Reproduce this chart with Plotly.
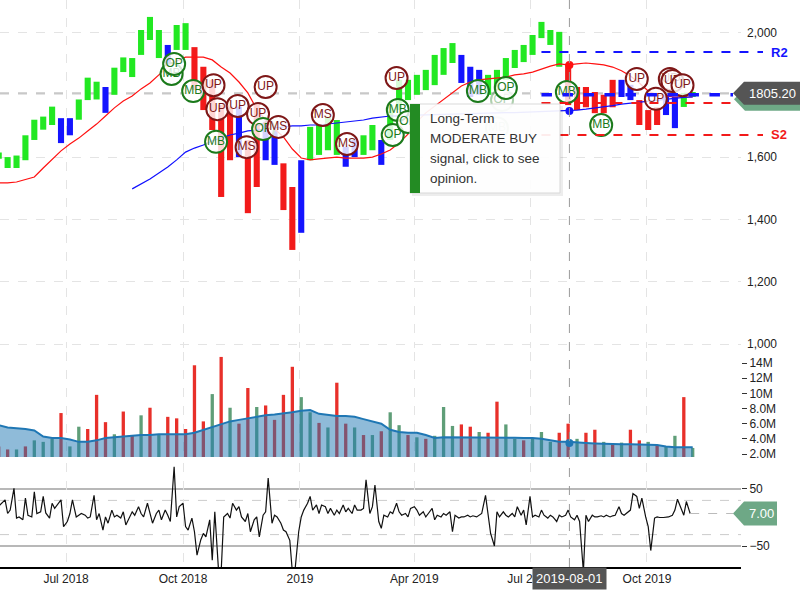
import pandas as pd
import plotly.graph_objects as go

FONT = "Liberation Sans, Arial, sans-serif"

# ---------------- data (weekly) ----------------
week_start = "2018-05-07"
n_weeks = 79

price_low = [1595, 1565, 1565, 1590, 1655, 1688, 1703, 1645, 1670, 1720,
             1783, 1785, 1742, 1800, 1873, 1857, 1928, 1976, 1918, 1890,
             1944, 1944, 1815, 1751, 1687, 1472, 1590, 1600, 1420, 1504,
             1590, 1575, 1430, 1302, 1357, 1590, 1607, 1622, 1607, 1569,
             1600, 1607, 1622, 1575, 1655, 1751, 1783, 1800, 1815, 1831,
             1864, 1902, 1838, 1793, 1800, 1800, 1815, 1848, 1886, 1905,
             1928, 1982, 1960, 1890, 1767, 1751, 1760, 1741, 1741, 1760,
             1793, 1783, 1703, 1687, 1703, 1735, 1693, 1761, 1793]
price_high = [1615, 1600, 1605, 1670, 1720, 1730, 1762, 1725, 1725, 1785,
              1855, 1842, 1825, 1887, 1920, 1918, 2008, 2050, 2008, 1960,
              2024, 2030, 1953, 1890, 1848, 1767, 1762, 1762, 1655, 1772,
              1720, 1687, 1580, 1504, 1590, 1697, 1703, 1730, 1719, 1633,
              1655, 1670, 1703, 1655, 1767, 1848, 1848, 1864, 1880, 1928,
              1950, 1966, 1928, 1890, 1880, 1864, 1880, 1918, 1944, 1960,
              1992, 2034, 2008, 2002, 1900, 1825, 1825, 1809, 1800, 1848,
              1848, 1832, 1783, 1751, 1760, 1800, 1793, 1806, 1809]
price_trend = list("ggggggg" "bb" "ggg" "b" "gggggg" "b" "gg" "rrrrr" "b" "rr"
                   "bb" "rr" "b" "gggg" "bb" "gg" "b" "gggggggg" "bbb"
                   "ggggggggg" "rrrrrr" "bb" "rrr" "bb" "gg")

ma_short = [1517, 1517, 1520, 1527, 1536, 1565, 1591, 1620, 1642, 1661,
            1684, 1706, 1732, 1758, 1780, 1796, 1819, 1838, 1864, 1889,
            1909, 1921, 1921, 1921, 1912, 1889, 1870, 1841, 1806, 1754,
            1719, 1690, 1665, 1626, 1597, 1591, 1594, 1597, 1600, 1597,
            1597, 1597, 1600, 1610, 1623, 1645, 1674, 1713, 1742, 1764,
            1787, 1809, 1828, 1841, 1848, 1851, 1854, 1857, 1864, 1867,
            1873, 1883, 1892, 1899, 1896, 1899, 1902, 1899, 1896, 1889,
            1877, 1860, 1838, 1812, 1799, 1796, 1793, 1793, 1793]
ma_long = [None] * 15 + [
    1498, 1514, 1530, 1549, 1568, 1591, 1616, 1629, 1639, 1652,
    1661, 1671, 1677, 1684, 1687, 1690, 1693, 1697, 1700, 1700,
    1703, 1703, 1706, 1709, 1713, 1716, 1719, 1725, 1729, 1732,
    1732, 1735, 1735, 1736, 1737, 1738, 1738, 1739, 1740, 1741,
    1741, 1742, 1743, 1743, 1744, 1744, 1745, 1746, 1747, 1748,
    1751, 1754, 1757, 1761, 1765, 1770, 1773, 1777, 1780, 1783,
    1786, 1790, 1792, 1793]

volume_m = [3.0, 2.6, 2.6, 3.0, 3.8, 3.6, 4.0, 7.4, 3.0, 5.6,
            5.3, 9.8, 6.2, 4.6, 7.6, 4.4, 7.1, 8.1, 4.5, 6.9,
            6.7, 5.3, 13.7, 6.3, 9.9, 14.8, 8.1, 6.0, 10.7, 8.2,
            8.4, 6.5, 9.8, 13.5, 9.5, 7.5, 6.1, 5.5, 11.4, 6.0,
            5.5, 4.5, 4.5, 5.0, 7.5, 5.8, 4.5, 4.2, 4.0, 4.4,
            8.2, 5.7, 5.9, 5.6, 4.9, 4.8, 8.9, 5.9, 4.0, 3.8,
            4.0, 4.9, 3.6, 4.8, 6.0, 4.0, 4.8, 5.2, 3.6, 3.4,
            3.5, 5.2, 3.8, 3.6, 3.2, 3.0, 4.4, 9.5, 2.8]
volume_dir = list("rrgrgggrgg" "rrrgrrgrgr" "rrrrgrgrrg" "rrrrggrgrr"
                  "grgrggrgrg" "ggrrgrrggr" "gggrrgrrgr" "grrgrggrg")
volume_avg_m = [5.8, 5.5, 5.4, 5.3, 5.1, 4.3, 4.1, 4.1, 3.9, 3.6,
                3.6, 3.8, 4.1, 4.2, 4.3, 4.4, 4.5, 4.5, 4.6, 4.6,
                4.6, 4.6, 4.8, 5.2, 5.5, 5.9, 6.3, 6.5, 6.7, 6.9,
                7.1, 7.2, 7.3, 7.5, 7.7, 7.8, 7.3, 7.1, 7.0, 7.0,
                6.9, 6.6, 6.3, 6.0, 5.2, 4.9, 4.8, 4.8, 4.5, 4.1,
                4.2, 4.2, 4.2, 4.2, 4.2, 4.2, 4.2, 4.2, 4.15, 4.1,
                4.1, 4.0, 3.8, 3.6, 3.6, 3.5, 3.45, 3.4, 3.35, 3.3,
                3.3, 3.3, 3.25, 3.2, 3.2, 3.0, 2.9, 2.9, 2.9]

# oscillator, sampled Mon / Wed / Fri
osc = [20, 25,
       31, 7, 13, 51, -1, 1, -4, 34, 4, 1, 45, 7, 10, 37, 8, -1, 25, 16,
       25, 31, -16, -7, 7, 31, 1, 4, 7, 4, -1, 1, 39, -4, 7, -22, 1, -10,
       13, 1, 4, -1, 10, -13, 1, 10, 4, 19, 7, 1, 25, 7, -10, 7, 13, -4,
       13, 4, -7, 89, 1, 19, 25, -16, -22, -1, -25, -66, -39, -28, -34,
       -4, -75, 10, -95, -95, 1, 7, -1, 25, 13, 19, 1, -7, 7, -25,
       -4, 1, -34, 4, 10, 69, -10, 4, 1, -10, -22, -25, -40, -95, -95,
       -25, 1, 13, 25, 37, 13, 22, 7, 22, 19, 7, 16, 4, 13, 7,
       22, 10, 16, 7, 22, 13, 13, 16, 66, 7, 19, 57, -7, -19, 4,
       1, 10, 7, 25, 10, 4, 7, 1, 16, 19, 13, 4, 10, 1, 7,
       16, -4, 4, 1, 7, 4, 10, -25, 4, -1, 1, 1, 4, 1, 3,
       1, 4, 7, 39, 1, -28, -50, 10, 1, 10, 4, 1, 7, 1, 19,
       4, 13, -13, 37, 1, 4, 1, 13, 4, -1, 4, 1, -7, 4, 1,
       4, 13, 1, -4, 4, -7, -95, 4, -7, 4, 1, 1, 3, 1, 4,
       1, 3, 4, 19, 7, 4, 10, 13, 42, 37, 16, 34, 1, -16, -58,
       -1, 1, 0, 0, 0, 1, 4, 13, 32, 13, 4, 28,
       7]

signals = [  # label, date, price level, kind, faded
    ("MB", "2018-09-22", 1867, "buy", False),
    ("OP", "2018-09-24", 1899, "buy", False),
    ("MB", "2018-10-09", 1812, "buy", False),
    ("UP", "2018-10-25", 1831, "sell", False),
    ("MB", "2018-10-27", 1649, "buy", False),
    ("UP", "2018-10-28", 1754, "sell", False),
    ("UP", "2018-11-13", 1764, "sell", False),
    ("MS", "2018-11-20", 1632, "sell", False),
    ("UP", "2018-11-29", 1738, "sell", False),
    ("UP", "2018-12-05", 1825, "sell", False),
    ("OP", "2018-12-03", 1690, "buy", False),
    ("MS", "2018-12-15", 1697, "sell", False),
    ("MS", "2019-01-19", 1735, "sell", False),
    ("MS", "2019-02-07", 1642, "sell", False),
    ("UP", "2019-03-18", 1854, "sell", False),
    ("OP", "2019-03-15", 1671, "buy", False),
    ("MB", "2019-03-19", 1751, "buy", False),
    ("OP", "2019-03-27", 1713, "buy", False),
    ("MB", "2019-05-21", 1812, "buy", False),
    ("MB", "2019-06-05", 1693, "buy", True),
    ("OP", "2019-06-09", 1783, "buy", True),
    ("OP", "2019-06-12", 1822, "buy", False),
    ("MB", "2019-07-30", 1809, "buy", False),
    ("MB", "2019-08-26", 1703, "buy", False),
    ("UP", "2019-09-23", 1851, "sell", False),
    ("UP", "2019-10-08", 1787, "sell", False),
    ("UP", "2019-10-19", 1851, "sell", False),
    ("UP", "2019-10-21", 1844, "sell", False),
    ("UP", "2019-10-29", 1831, "sell", False),
]

last_price = 1805.20
last_osc = 7.00
pivot_start = "2019-07-10"
levels = {"R2": 1937, "R1": 1800, "S1": 1774, "S2": 1671}
cursor_date = "2019-08-01"
cursor_ma_short, cursor_ma_long, cursor_vol_avg_m = 1896, 1748, 3.45

x_ticks = ["2018-07-01", "2018-10-01", "2019-01-01", "2019-04-01", "2019-07-01", "2019-10-01"]
x_tick_text = ["Jul 2018", "Oct 2018", "2019", "Apr 2019", "Jul 2019", "Oct 2019"]
price_ticks = [1000, 1200, 1400, 1600, 1800, 2000]
vol_ticks_m = [2, 4, 6, 8, 10, 12, 14]
vol_tick_text = ["2.0M", "4.0M", "6.0M", "8.0M", "10M", "12M", "14M"]

# ---------------- derived ----------------
mondays = pd.date_range(week_start, periods=n_weeks, freq="W-MON")
bar_dates = mondays + pd.Timedelta(days=2)
osc_dates = []
for i, m in enumerate(mondays):
    for off in (0, 2, 4):
        d = m + pd.Timedelta(days=off)
        if i == 0 and off == 0:
            continue
        if i == n_weeks - 1 and off > 0:
            continue
        osc_dates.append(d)

X0, X1 = pd.Timestamp("2018-05-10"), pd.Timestamp("2019-12-14")
PW, PH = 741.0, 567.0


def xp(px):
    return px / PW


def yp(py):
    return 1 - py / PH


def date_paper(d):
    return (pd.Timestamp(d) - X0) / (X1 - X0)


PRICE_RANGE = [987.2, 2104.3]
VOL_RANGE = [1.604e6, 15.45e6]
OSC_RANGE = [-86.84, 95.6]
price_dom = [yp(348), 1]
vol_dom = [yp(457), yp(352)]
osc_dom = [0, yp(463)]
price_ppu = 348 / (PRICE_RANGE[1] - PRICE_RANGE[0])
osc_ppu = (567 - 463) / (OSC_RANGE[1] - OSC_RANGE[0])

GREEN, BLUE, RED = "#22e822", "#1414ff", "#f21a1a"
trend_col = {"g": GREEN, "b": BLUE, "r": RED}
vol_col = {"g": "#5f9e78", "r": "#e8302a"}
DAY_MS = 86400000

fig = go.Figure()

# volume bars + average area
fig.add_trace(go.Bar(x=bar_dates, y=[v * 1e6 for v in volume_m],
                     marker=dict(color=[vol_col[c] for c in volume_dir], line_width=0),
                     width=2.6 * DAY_MS, xaxis="x", yaxis="y2", hoverinfo="skip"))
fig.add_trace(go.Scatter(x=bar_dates, y=[v * 1e6 for v in volume_avg_m], mode="lines",
                         line=dict(color="#1f77b4", width=2), fill="tozeroy",
                         fillcolor="rgba(31,119,180,0.5)", xaxis="x", yaxis="y2",
                         hoverinfo="skip"))
fig.add_trace(go.Scatter(x=[cursor_date], y=[cursor_vol_avg_m * 1e6], mode="markers",
                         marker=dict(color="#1f77b4", size=8), xaxis="x", yaxis="y2"))

# price bars
fig.add_trace(go.Bar(x=bar_dates, y=[h - l for h, l in zip(price_high, price_low)],
                     base=price_low,
                     marker=dict(color=[trend_col[c] for c in price_trend], line_width=0),
                     width=4.8 * DAY_MS, xaxis="x", yaxis="y", hoverinfo="skip"))
fig.add_trace(go.Scatter(x=bar_dates, y=ma_short, mode="lines",
                         line=dict(color="#ff1010", width=1.2), xaxis="x", yaxis="y"))
fig.add_trace(go.Scatter(x=bar_dates, y=ma_long, mode="lines",
                         line=dict(color="#1010ff", width=1.2), xaxis="x", yaxis="y"))
fig.add_trace(go.Scatter(x=[cursor_date, cursor_date], y=[cursor_ma_short, cursor_ma_long],
                         mode="markers", marker=dict(color=["#ff1010", "#1010ff"], size=8),
                         xaxis="x", yaxis="y"))

# signal markers
for lab, d, lvl, kind, faded in signals:
    col = "#1b7a1b" if kind == "buy" else "#7e1717"
    fig.add_trace(go.Scatter(
        x=[d], y=[lvl], mode="markers+text", text=[lab], textposition="middle center",
        textfont=dict(family=FONT, size=12, color=col),
        marker=dict(size=22, color="rgba(255,255,255,0.82)", line=dict(color=col, width=2)),
        opacity=0.35 if faded else 1.0, xaxis="x", yaxis="y"))

# oscillator
fig.add_trace(go.Scatter(x=osc_dates, y=osc, mode="lines",
                         line=dict(color="#111111", width=1.2), xaxis="x", yaxis="y3"))

shapes = []
# last price line
shapes.append(dict(type="line", xref="paper", yref="y", x0=0, x1=xp(733), y0=last_price,
                   y1=last_price, line=dict(color="#c8c8c8", width=2, dash="dash"), layer="below"))
# pivot levels
ps = date_paper(pivot_start)
shapes.append(dict(type="line", xref="paper", yref="y", x0=ps, x1=xp(763), y0=levels["R2"],
                   y1=levels["R2"], line=dict(color=BLUE, width=2, dash="dash")))
shapes.append(dict(type="line", xref="paper", yref="y", x0=ps, x1=xp(763), y0=levels["S2"],
                   y1=levels["S2"], line=dict(color=RED, width=2, dash="dash")))
shapes.append(dict(type="line", xref="paper", yref="y", x0=ps, x1=xp(760), y0=levels["S1"],
                   y1=levels["S1"], line=dict(color=RED, width=2, dash="dash")))
shapes.append(dict(type="line", xref="paper", yref="y", x0=ps, x1=xp(733), y0=levels["R1"],
                   y1=levels["R1"], line=dict(color=BLUE, width=3.5, dash="dash")))
# oscillator guides
for lv, dash, w, c in [(50, "solid", 2, "#b8b8b8"), (-50, "solid", 2, "#b8b8b8"),
                       (30, "dash", 1, "#cccccc"), (-30, "dash", 1, "#cccccc")]:
    shapes.append(dict(type="line", xref="paper", yref="y3", x0=0, x1=1, y0=lv, y1=lv,
                       line=dict(color=c, width=w, dash=dash), layer="below"))
# osc last value line
shapes.append(dict(type="line", xref="paper", yref="y3", x0=date_paper(osc_dates[-1]),
                   x1=xp(733), y0=last_osc, y1=last_osc,
                   line=dict(color="#bbbbbb", width=1, dash="dash")))
# cursor
shapes.append(dict(type="line", xref="x", yref="paper", x0=cursor_date, x1=cursor_date,
                   y0=0, y1=1, line=dict(color="#9a9a9a", width=1, dash="dash")))


def tag_path(yc, half, x_tip, x_body, x_end):
    return (f"M {xp(x_tip)},{yc} L {xp(x_body)},{yc + half} L {xp(x_end)},{yc + half} "
            f"L {xp(x_end)},{yc - half} L {xp(x_body)},{yc - half} Z")


hh = 11.5 / price_ppu
shapes.append(dict(type="path", xref="paper", yref="y",
                   path=tag_path(last_price - 6 / price_ppu, hh, 734, 745, 800),
                   fillcolor="#6ea886", line=dict(width=0)))
shapes.append(dict(type="path", xref="paper", yref="y",
                   path=tag_path(last_price, hh, 733, 744, 800),
                   fillcolor="#555555", line=dict(width=0)))
shapes.append(dict(type="path", xref="paper", yref="y3",
                   path=tag_path(last_osc, 12 / osc_ppu, 733, 744, 777),
                   fillcolor="#6ea886", line=dict(width=0)))

# tooltip box
shapes.append(dict(type="rect", xref="paper", yref="paper", x0=xp(412), x1=xp(563),
                   y0=yp(196), y1=yp(106), fillcolor="rgba(0,0,0,0.07)", line=dict(width=0)))
shapes.append(dict(type="rect", xref="paper", yref="paper", x0=xp(410), x1=xp(560),
                   y0=yp(193), y1=yp(104), fillcolor="rgba(255,255,255,0.92)",
                   line=dict(color="#d9d9d9", width=1)))
shapes.append(dict(type="rect", xref="paper", yref="paper", x0=xp(410), x1=xp(420),
                   y0=yp(193), y1=yp(104), fillcolor="#238b23", line=dict(width=0)))

annotations = []
for i, line in enumerate(["Long-Term", "MODERATE BUY", "signal, click to see", "opinion."]):
    annotations.append(dict(xref="paper", yref="paper", x=xp(428), y=yp(118 + 20 * i),
                            text=line, showarrow=False, xanchor="left", yanchor="middle",
                            font=dict(family=FONT, size=13.5, color="#333333")))
annotations.append(dict(xref="paper", yref="y", x=xp(772), y=last_price, text="1805.20",
                        showarrow=False, xanchor="center", yanchor="middle",
                        font=dict(family=FONT, size=13, color="white")))
annotations.append(dict(xref="paper", yref="y3", x=xp(761), y=last_osc, text="7.00",
                        showarrow=False, xanchor="center", yanchor="middle",
                        font=dict(family=FONT, size=13, color="white")))
annotations.append(dict(xref="paper", yref="y", x=xp(779), y=levels["R2"], text="<b>R2</b>",
                        showarrow=False, xanchor="center", yanchor="middle",
                        font=dict(family=FONT, size=13, color=BLUE)))
annotations.append(dict(xref="paper", yref="y", x=xp(779), y=levels["S2"], text="<b>S2</b>",
                        showarrow=False, xanchor="center", yanchor="middle",
                        font=dict(family=FONT, size=13, color=RED)))
annotations.append(dict(xref="x", yref="paper", x=cursor_date, y=0, yanchor="top",
                        xanchor="center", text="2019-08-01", showarrow=False,
                        bgcolor="#555555", borderpad=3,
                        font=dict(family=FONT, size=13, color="white")))

tickfont = dict(family=FONT, size=12, color="#222222")
fig.update_layout(
    width=800, height=600, margin=dict(l=0, r=59, t=0, b=33),
    paper_bgcolor="white", plot_bgcolor="white", showlegend=False,
    barmode="overlay", hovermode=False, font=dict(family=FONT),
    xaxis=dict(type="date", range=[X0, X1], anchor="y3", tickvals=x_ticks,
               ticktext=x_tick_text, ticks="", showgrid=True, gridcolor="#e4e4e4",
               griddash="dash", gridwidth=1, showline=True, linecolor="#000000",
               linewidth=1.5, zeroline=False, tickfont=tickfont),
    yaxis=dict(domain=price_dom, range=PRICE_RANGE, side="right", anchor="x",
               tickvals=price_ticks, tickformat=",", ticks="", showgrid=True,
               gridcolor="#e4e4e4", griddash="dash", zeroline=False, showline=False,
               tickfont=tickfont, ticklabelstandoff=5),
    yaxis2=dict(domain=vol_dom, range=VOL_RANGE, side="right", anchor="x",
                tickvals=[v * 1e6 for v in vol_ticks_m], ticktext=vol_tick_text,
                ticks="outside", ticklen=5, tickcolor="#333333", showgrid=False,
                zeroline=False, showline=False, tickfont=tickfont),
    yaxis3=dict(domain=osc_dom, range=OSC_RANGE, side="right", anchor="x",
                tickvals=[-50, 50], ticks="outside", ticklen=5, tickcolor="#333333",
                showgrid=False, zeroline=False, showline=False, tickfont=tickfont),
    shapes=shapes, annotations=annotations,
)

fig.write_html("out.html", config={"displayModeBar": False},
               post_script="document.body.style.margin='0';document.body.style.overflow='hidden';")
